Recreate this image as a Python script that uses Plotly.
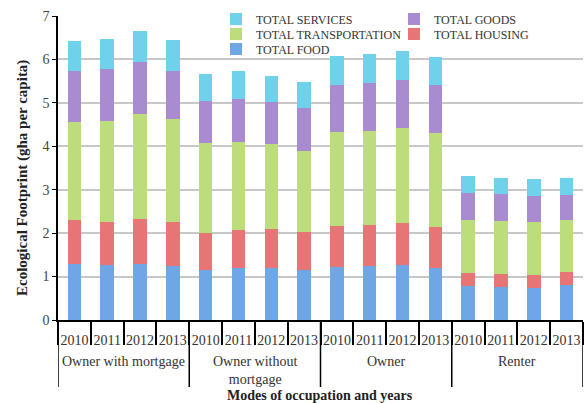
import plotly.graph_objects as go

groups = ["Owner with mortgage", "Owner without<br>mortgage", "Owner", "Renter"]
years = ["2010", "2011", "2012", "2013"]

food =      [1.29, 1.26, 1.30, 1.25, 1.14, 1.20, 1.20, 1.14, 1.22, 1.24, 1.26, 1.20, 0.78, 0.77, 0.74, 0.81]
housing =   [1.01, 1.00, 1.03, 1.00, 0.87, 0.87, 0.90, 0.89, 0.95, 0.94, 0.97, 0.95, 0.31, 0.30, 0.30, 0.29]
transport = [2.27, 2.33, 2.41, 2.37, 2.07, 2.04, 1.95, 1.87, 2.17, 2.18, 2.20, 2.16, 1.21, 1.21, 1.21, 1.20]
goods =     [1.16, 1.18, 1.19, 1.12, 0.96, 0.97, 0.96, 0.99, 1.07, 1.09, 1.09, 1.09, 0.62, 0.61, 0.61, 0.58]
services =  [0.70, 0.69, 0.73, 0.71, 0.62, 0.65, 0.62, 0.60, 0.67, 0.67, 0.67, 0.66, 0.40, 0.38, 0.38, 0.39]

n_years = len(years)
n = len(groups) * n_years
xpos = list(range(n))
year_labels = [y for _ in groups for y in years]

series = [
    ("TOTAL FOOD", food, "#6ea6e6", "legend3"),
    ("TOTAL HOUSING", housing, "#e87575", "legend5"),
    ("TOTAL TRANSPORTATION", transport, "#bddd7c", "legend2"),
    ("TOTAL GOODS", goods, "#a98bd0", "legend4"),
    ("TOTAL SERVICES", services, "#6fd2ea", "legend"),
]

fig = go.Figure()
for name, vals, color, lg in series:
    fig.add_trace(go.Bar(x=xpos, y=vals, name=name, marker=dict(color=color, line=dict(width=0)),
                         legend=lg, showlegend=True))

font_family = "Liberation Serif"
H = 304.0
W = 525.0
def py(ypx):
    return (320 - ypx) / H
def px(xpx):
    return (xpx - 58) / W
def leg(xpx, ypx):
    return dict(x=px(xpx), y=py(ypx), xanchor="left", yanchor="middle",
                bgcolor="rgba(0,0,0,0)", font=dict(size=12, color="#333333"),
                itemwidth=30, borderwidth=0, visible=True)

# group dividers and group labels
for gi, g in enumerate(groups):
    left = gi * n_years - 0.5
    fig.add_shape(type="line", xref="x", yref="paper", x0=left, x1=left, y0=0, y1=py(387),
                  line=dict(color="black", width=1.5))
    fig.add_annotation(text=g, xref="x", yref="paper", x=left + n_years / 2, y=py(352),
                       xanchor="center", yanchor="top", showarrow=False,
                       font=dict(size=14, color="#333333"))
fig.add_shape(type="line", xref="x", yref="paper", x0=n - 0.5, x1=n - 0.5, y0=0, y1=py(387),
              line=dict(color="black", width=1.5))

fig.add_annotation(text="<b>Modes of occupation and years</b>", xref="paper", yref="paper",
                   x=px(320), y=py(395), xanchor="center", yanchor="middle", showarrow=False,
                   font=dict(size=14, color="#222222"))
fig.add_annotation(text="<b>Ecological Footprint (gha per capita)</b>", xref="paper", yref="paper",
                   x=px(22), y=py(178), xanchor="center", yanchor="middle", showarrow=False,
                   textangle=-90, font=dict(size=15, color="#222222"))

fig.update_layout(
    barmode="stack",
    bargap=0.59,
    showlegend=True,
    width=585, height=403,
    margin=dict(l=58, r=2, t=16, b=83, autoexpand=False),
    plot_bgcolor="white", paper_bgcolor="white",
    font=dict(family=font_family, size=14, color="#333333"),
    legend=leg(216, 19),
    legend2=leg(216, 34),
    legend3=leg(216, 49),
    legend4=leg(394, 19),
    legend5=leg(394, 34),
    yaxis=dict(range=[0, 7], dtick=1, showgrid=True, gridcolor="#c8c8c8", gridwidth=1.5,
               showline=True, linecolor="black", linewidth=1.5, ticks="outside", ticklen=4,
               tickcolor="black", tickfont=dict(size=14, color="#444444"), automargin=False,
               zeroline=False),
    xaxis=dict(range=[-0.5, n - 0.5], tickmode="array", tickvals=xpos, ticktext=year_labels,
               ticks="", tickangle=0, ticklabelstandoff=6, showgrid=False, zeroline=False,
               showline=True, linecolor="black", linewidth=1.5, automargin=False,
               tickfont=dict(size=14, color="#333333"),
               minor=dict(ticks="outside", ticklen=23, tickcolor="black", tickwidth=1.5,
                          tick0=-0.5, dtick=1, showgrid=False)),
)

# remove the page's default body margin so the 585x403 figure fills the window exactly
fig.write_html("out.html", config={"displayModeBar": False},
               post_script="document.body.style.margin='0';document.body.style.overflow='hidden';")
